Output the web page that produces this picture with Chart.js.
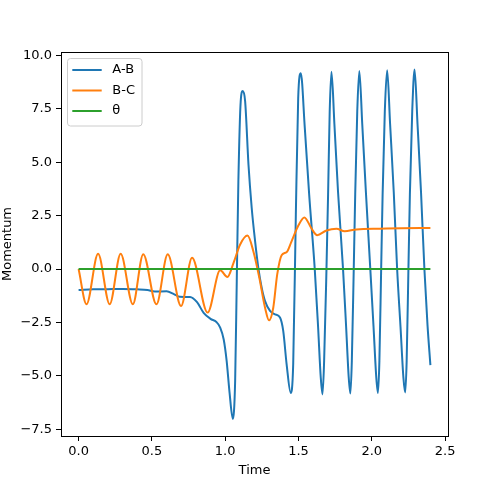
<!DOCTYPE html>
<html>
<head>
<meta charset="utf-8">
<title>Momentum</title>
<script src="https://cdn.jsdelivr.net/npm/chart.js@4/dist/chart.umd.min.js"></script>
<style>
  html, body { margin: 0; padding: 0; background: #ffffff; }
  #wrap { width: 491px; height: 486px; }
</style>
</head>
<body>
<div id="wrap"><canvas id="momentumChart"></canvas></div>
<script>
// Datos
const seriesLabels = ["A-B", "B-C", "θ"];
const seriesColors = ["#1f77b4", "#ff7f0e", "#2ca02c"];

const abTime = [0.000, 0.100, 0.200, 0.300, 0.400, 0.470, 0.520, 0.600, 0.650, 0.690, 0.760, 0.808, 0.853, 0.900, 0.940, 0.966, 0.990, 1.010, 1.030, 1.052, 1.068, 1.079, 1.090, 1.106, 1.120, 1.136, 1.159, 1.181, 1.204, 1.226, 1.249, 1.272, 1.306, 1.340, 1.374, 1.396, 1.419, 1.447, 1.464, 1.482, 1.498, 1.516, 1.543, 1.573, 1.611, 1.634, 1.652, 1.664, 1.675, 1.691, 1.702, 1.713, 1.725, 1.745, 1.770, 1.804, 1.825, 1.843, 1.854, 1.864, 1.877, 1.887, 1.901, 1.915, 1.935, 1.960, 1.990, 2.012, 2.031, 2.042, 2.052, 2.064, 2.074, 2.089, 2.105, 2.125, 2.150, 2.173, 2.196, 2.216, 2.228, 2.238, 2.250, 2.260, 2.276, 2.292, 2.312, 2.336, 2.359, 2.380, 2.400];
const abMomentum = [-0.98, -0.95, -0.94, -0.93, -0.95, -0.98, -1.05, -1.04, -1.17, -1.30, -1.31, -1.55, -2.05, -2.33, -2.48, -2.74, -3.30, -4.30, -5.80, -7.02, -5.23, -0.56, 4.11, 7.87, 8.34, 7.87, 4.89, 2.86, 1.31, 0.06, -0.87, -1.50, -1.96, -2.12, -2.27, -2.90, -4.45, -5.80, -4.45, 2.55, 8.00, 9.17, 6.63, 3.49, 0.00, -2.74, -5.08, -5.87, -4.30, 0.00, 3.49, 7.38, 9.24, 6.80, 3.60, 0.00, -2.70, -5.10, -5.83, -4.30, 0.00, 3.50, 7.40, 9.28, 6.80, 3.60, 0.00, -2.70, -5.10, -5.80, -4.30, 0.00, 3.50, 7.40, 9.31, 6.80, 3.60, 0.00, -2.70, -5.10, -5.78, -4.30, 0.00, 3.50, 7.40, 9.35, 6.80, 3.60, 0.00, -2.60, -4.50];

const bcTime = [0.000, 0.054, 0.133, 0.212, 0.287, 0.370, 0.441, 0.531, 0.608, 0.699, 0.774, 0.880, 0.966, 1.015, 1.057, 1.102, 1.152, 1.192, 1.233, 1.272, 1.299, 1.328, 1.355, 1.385, 1.420, 1.450, 1.500, 1.540, 1.589, 1.627, 1.691, 1.759, 1.815, 1.895, 2.053, 2.200, 2.400];
const bcMomentum = [0.00, -1.65, 0.72, -1.65, 0.72, -1.65, 0.70, -1.65, 0.69, -1.73, 0.53, -2.04, -0.06, -0.37, 0.29, 1.15, 1.57, 0.84, -0.41, -1.81, -2.40, -1.81, -0.25, 0.65, 0.80, 1.25, 2.05, 2.42, 1.90, 1.59, 1.81, 1.89, 1.77, 1.86, 1.89, 1.91, 1.93];

const thetaTime = [0.0, 2.4];
const thetaMomentum = [0.0, 0.0];

const xTicks = [0.0, 0.5, 1.0, 1.5, 2.0, 2.5];
const yTicks = [-7.5, -5.0, -2.5, 0.0, 2.5, 5.0, 7.5, 10.0];

const fontFamily = "'DejaVu Sans', sans-serif";

function toPoints(xs, ys) {
  return xs.map((x, i) => ({ x: x, y: ys[i] }));
}

// Formato de etiqueta con el signo menos tipográfico
function tickLabel(v) {
  return v.toFixed(1).replace('-', '\u2212');
}

// Marco de los ejes y leyenda dentro del área del gráfico
const framePlugin = {
  id: 'frame',
  afterDatasetsDraw(chart) {
    const ctx = chart.ctx;
    const a = chart.chartArea;
    ctx.save();

    ctx.strokeStyle = '#000000';
    ctx.lineWidth = 1;
    ctx.strokeRect(a.left + 0.5, a.top + 0.5, a.right - a.left, a.bottom - a.top);

    // Leyenda
    const bx = a.left + 6.5, by = a.top + 6.5, bw = 74.5, bh = 67.5, r = 3;
    ctx.beginPath();
    ctx.moveTo(bx + r, by);
    ctx.lineTo(bx + bw - r, by);
    ctx.arcTo(bx + bw, by, bx + bw, by + r, r);
    ctx.lineTo(bx + bw, by + bh - r);
    ctx.arcTo(bx + bw, by + bh, bx + bw - r, by + bh, r);
    ctx.lineTo(bx + r, by + bh);
    ctx.arcTo(bx, by + bh, bx, by + bh - r, r);
    ctx.lineTo(bx, by + r);
    ctx.arcTo(bx, by, bx + r, by, r);
    ctx.closePath();
    ctx.fillStyle = 'rgba(255,255,255,0.8)';
    ctx.fill();
    ctx.strokeStyle = '#cccccc';
    ctx.stroke();

    ctx.font = '13px ' + fontFamily;
    ctx.textBaseline = 'middle';
    ctx.textAlign = 'left';
    chart.data.datasets.forEach((ds, i) => {
      const y = a.top + 18 + i * 20.5;
      ctx.strokeStyle = ds.borderColor;
      ctx.lineWidth = 2;
      ctx.beginPath();
      ctx.moveTo(a.left + 11.3, y);
      ctx.lineTo(a.left + 40.7, y);
      ctx.stroke();
      ctx.fillStyle = '#000000';
      ctx.fillText(ds.label, a.left + 51.3, y);
    });
    ctx.restore();
  }
};

function initChart() {
  const ctx = document.getElementById('momentumChart').getContext('2d');
  const series = [
    toPoints(abTime, abMomentum),
    toPoints(bcTime, bcMomentum),
    toPoints(thetaTime, thetaMomentum)
  ];

  new Chart(ctx, {
    type: 'line',
    data: {
      datasets: series.map((pts, i) => ({
        label: seriesLabels[i],
        data: pts,
        borderColor: seriesColors[i],
        backgroundColor: seriesColors[i],
        borderWidth: 2,
        pointRadius: 0,
        fill: false,
        cubicInterpolationMode: 'monotone',
        order: 3 - i
      }))
    },
    options: {
      responsive: true,
      maintainAspectRatio: false,
      animation: false,
      layout: { padding: { left: 0, top: 52, right: 43, bottom: 0 } },
      plugins: {
        legend: { display: false },
        tooltip: { enabled: false }
      },
      scales: {
        x: {
          type: 'linear',
          min: -0.12,
          max: 2.52,
          afterBuildTicks: axis => { axis.ticks = xTicks.map(v => ({ value: v })); },
          afterFit: axis => { axis.height = 50; },
          grid: { drawOnChartArea: false, drawTicks: true, tickLength: 5, color: '#000000' },
          border: { display: true, color: '#000000', width: 1 },
          ticks: {
            color: '#000000',
            font: { family: fontFamily, size: 13 },
            padding: 3,
            maxRotation: 0,
            autoSkip: false,
            callback: v => tickLabel(v)
          },
          title: {
            display: true,
            text: 'Time',
            color: '#000000',
            font: { family: fontFamily, size: 13 },
            padding: { top: 0, bottom: 8 }
          }
        },
        y: {
          type: 'linear',
          min: -7.82,
          max: 10.17,
          afterBuildTicks: axis => { axis.ticks = yTicks.map(v => ({ value: v })); },
          afterFit: axis => { axis.width = 61; },
          grid: { drawOnChartArea: false, drawTicks: true, tickLength: 5, color: '#000000' },
          border: { display: true, color: '#000000', width: 1 },
          ticks: {
            color: '#000000',
            font: { family: fontFamily, size: 13 },
            padding: 4,
            autoSkip: false,
            callback: v => tickLabel(v)
          },
          title: {
            display: true,
            text: 'Momentum',
            color: '#000000',
            font: { family: fontFamily, size: 13 },
            padding: { top: 0, bottom: 0 }
          }
        }
      }
    },
    plugins: [framePlugin]
  });
}

document.addEventListener('DOMContentLoaded', initChart);
</script>
</body>
</html>
